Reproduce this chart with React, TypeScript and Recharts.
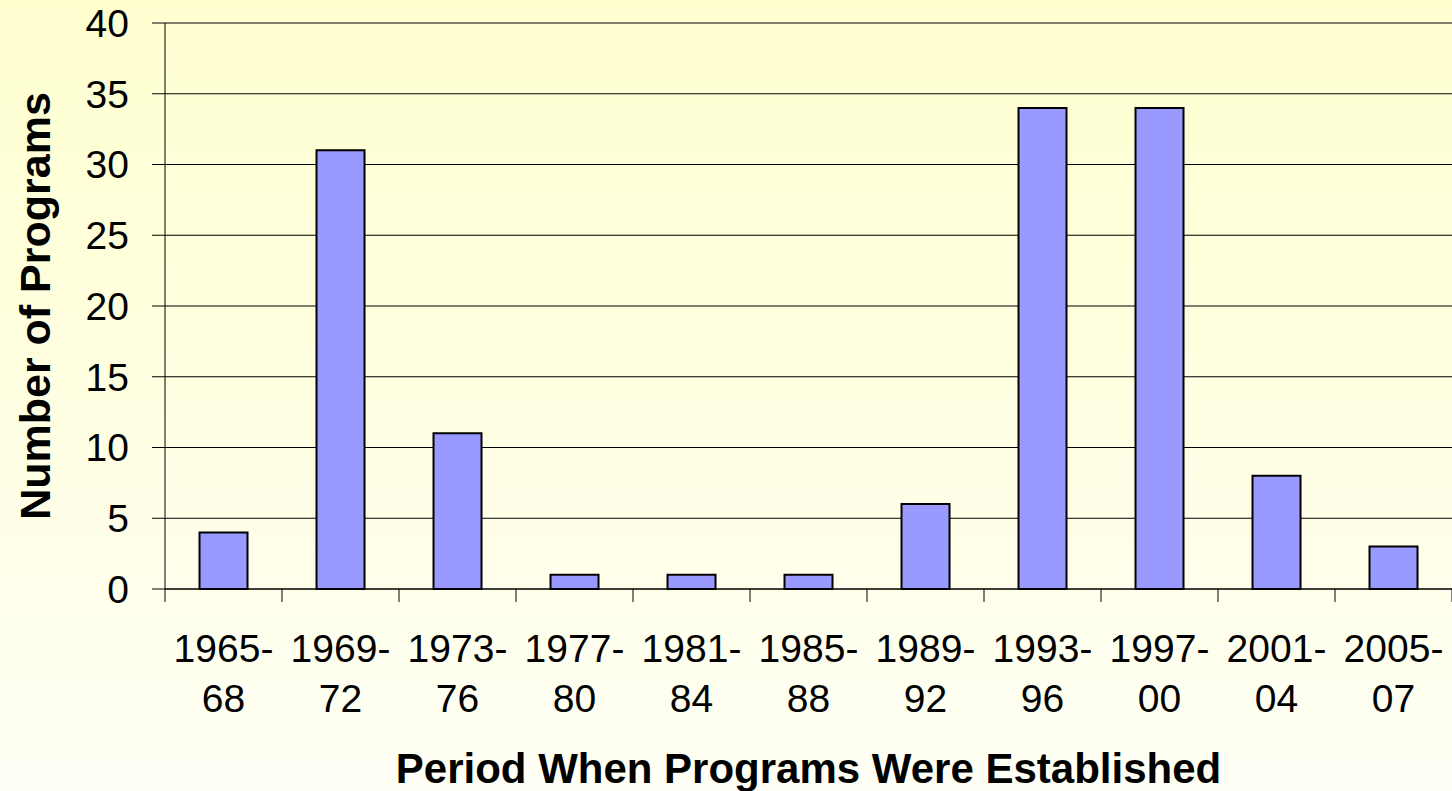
import { Bar, BarChart, CartesianGrid, XAxis, YAxis } from "recharts";

const PERIODS = [
  "1965-68",
  "1969-72",
  "1973-76",
  "1977-80",
  "1981-84",
  "1985-88",
  "1989-92",
  "1993-96",
  "1997-00",
  "2001-04",
  "2005-07"
];
const PROGRAMS = [4, 31, 11, 1, 1, 1, 6, 34, 34, 8, 3];
const Y_TICKS = [0, 5, 10, 15, 20, 25, 30, 35, 40];

const FONT = "'Liberation Sans', Arial, Helvetica, sans-serif";

const data = PERIODS.map((period, i) => ({ period, programs: PROGRAMS[i] }));

// label in two lines, tick marks on the category boundaries (Excel style)
function PeriodTick({ x, y, payload, index, visibleTicksCount }: any) {
  const [start, end] = String(payload.value).split("-");
  const half = payload.offset || 0;
  const last = index === visibleTicksCount - 1;
  return (
    <g>
      <line x1={x - half} x2={x - half} y1={y} y2={y + 13} stroke="#000" />
      {last && <line x1={x + half} x2={x + half} y1={y} y2={y + 13} stroke="#000" />}
      <text x={x} y={y} textAnchor="middle" fontFamily={FONT} fontSize={39} fill="#000">
        <tspan x={x} dy={73}>{start}-</tspan>
        <tspan x={x} dy={50}>{end}</tspan>
      </text>
    </g>
  );
}

function XTitle({ viewBox }: any) {
  return (
    <text
      x={viewBox.x + viewBox.width / 2}
      y={viewBox.y + 194}
      textAnchor="middle"
      fontFamily={FONT}
      fontSize={42}
      fontWeight="bold"
      fill="#000"
    >
      Period When Programs Were Established
    </text>
  );
}

function YTitle({ viewBox }: any) {
  const cx = viewBox.x + 50;
  const cy = viewBox.y + viewBox.height / 2;
  return (
    <text
      x={cx}
      y={cy}
      transform={`rotate(-90 ${cx} ${cy})`}
      textAnchor="middle"
      fontFamily={FONT}
      fontSize={43}
      fontWeight="bold"
      fill="#000"
    >
      Number of Programs
    </text>
  );
}

export default function App() {
  return (
    <div
      style={{
        position: "fixed",
        top: 0,
        left: 0,
        width: 1452,
        height: 791,
        background: "linear-gradient(to bottom, #ffffd0 0%, #ffffe6 60%, #fffff6 100%)"
      }}
    >
      <BarChart
        width={1452}
        height={791}
        data={data}
        margin={{ top: 23, right: 0, bottom: 0, left: 0 }}
        barCategoryGap="29.5%"
      >
        <CartesianGrid horizontal vertical={false} stroke="#000" strokeWidth={1} />
        <XAxis
          dataKey="period"
          height={202}
          interval={0}
          tickSize={0}
          tickMargin={0}
          tickLine={false}
          axisLine={{ stroke: "#000" }}
          tick={<PeriodTick />}
          label={<XTitle />}
        />
        <YAxis
          width={165}
          domain={[0, 40]}
          ticks={Y_TICKS}
          interval={0}
          tickSize={13}
          tickMargin={23}
          tickLine={{ stroke: "#000" }}
          axisLine={{ stroke: "#000" }}
          tick={{ fill: "#000", fontSize: 39, fontFamily: FONT }}
          label={<YTitle />}
        />
        <Bar
          dataKey="programs"
          fill="#9999ff"
          stroke="#000"
          strokeWidth={2}
          isAnimationActive={false}
        />
      </BarChart>
    </div>
  );
}
